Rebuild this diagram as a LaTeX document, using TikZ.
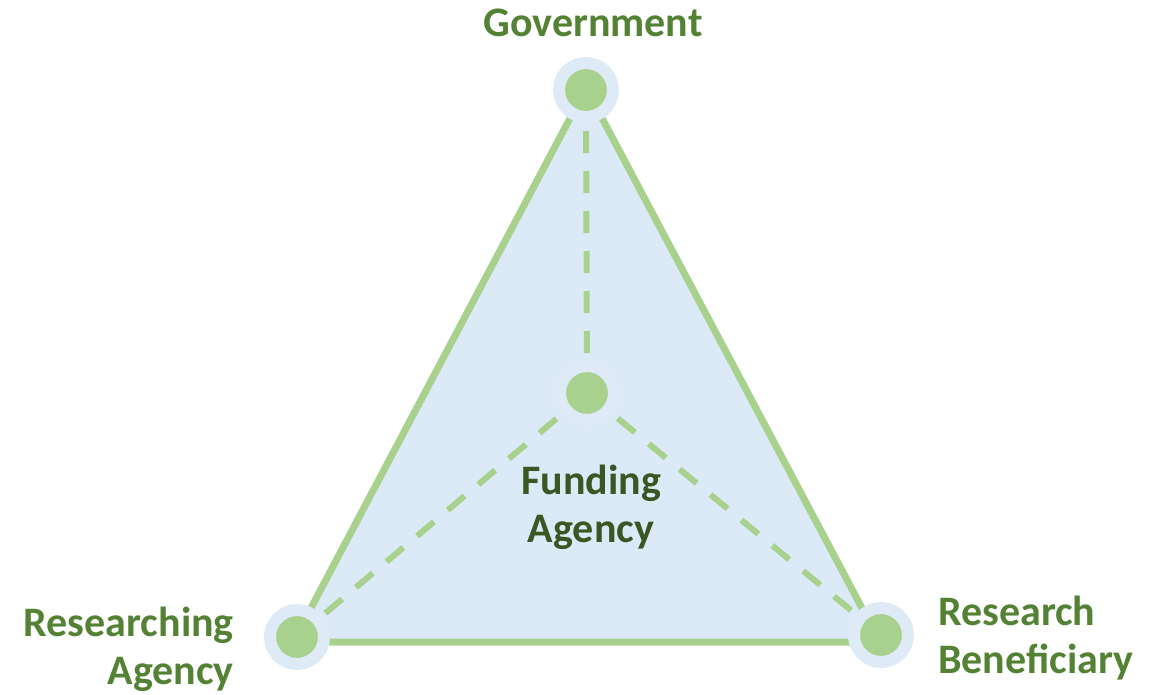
\documentclass[tikz,border=0pt]{standalone}
\usepackage{fontspec}
\setmainfont{Carlito}
\definecolor{lgreen}{RGB}{169,209,142}
\definecolor{ring}{RGB}{222,235,247}
\definecolor{fillblue}{RGB}{220,234,248}
\definecolor{lbl}{RGB}{84,130,53}
\definecolor{lbldark}{RGB}{56,87,35}
\tikzset{
  hub/.style={circle, draw=ring, line width=12pt, fill=lgreen, minimum size=54pt, inner sep=0pt},
  edgeline/.style={draw=lgreen, line width=7pt},
  dashline/.style={draw=lgreen, line width=6pt, dash pattern=on 22pt off 18pt},
  lab/.style={font=\fontsize{42}{48}\selectfont\bfseries, text=lbl, inner sep=0pt},
}
\begin{document}
\begin{tikzpicture}[x=1pt,y=-1pt]
\useasboundingbox (0,0) rectangle (1162,695);
\coordinate (apex) at (586,88);
\coordinate (vl) at (293,642);
\coordinate (vr) at (880,642);
\filldraw[fill=fillblue, edgeline, line join=round] (apex) -- (vl) -- (vr) -- cycle;
\coordinate (cg) at (586,90);
\coordinate (cf) at (587,393);
\coordinate (cr) at (297,637);
\coordinate (cb) at (881,635);
\draw[dashline] (cf) -- (cg);
\draw[dashline] (cf) -- (cr);
\draw[dashline] (cf) -- (cb);
\node[hub] (g) at (cg) {};
\node[hub] (f) at (cf) {};
\node[hub] (r) at (cr) {};
\node[hub] (b) at (cb) {};
\node[lab, anchor=base] (tg) at (593,37) {Government};
\node[lab, text=lbldark, align=center, anchor=base] (tf) at (591,542) {Funding\\Agency};
\node[lab, align=right, anchor=base east] (tr) at (234,684) {Researching\\Agency};
\node[lab, align=left, anchor=base west] (tb) at (938,673) {Research\\Beneficiary};
\end{tikzpicture}
\end{document}
